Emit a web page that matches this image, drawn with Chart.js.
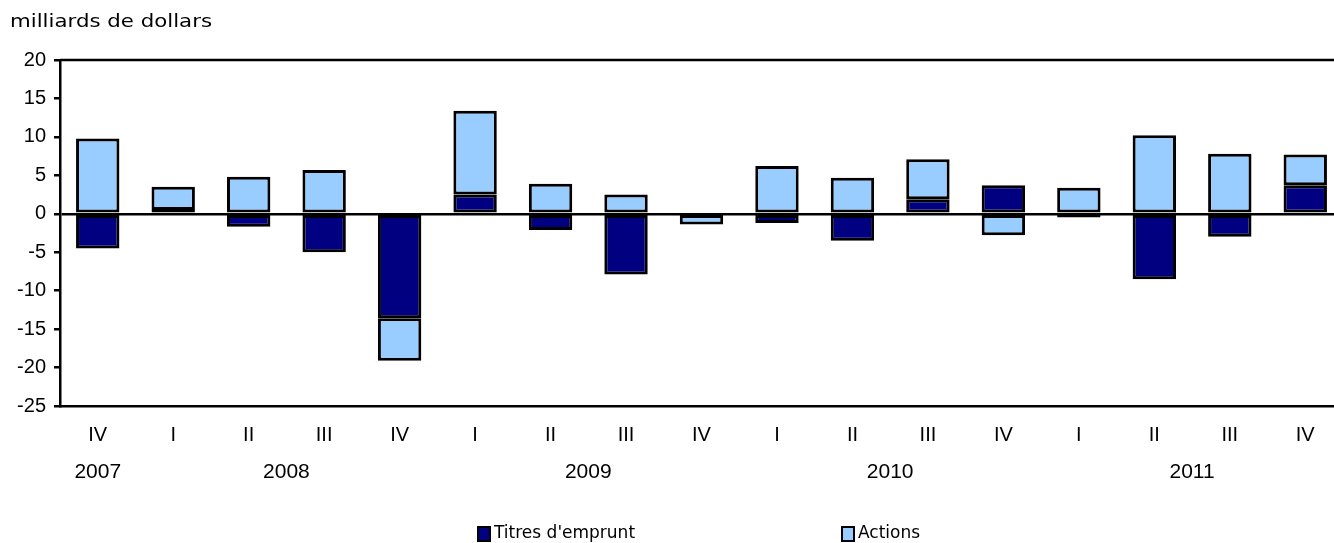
<!DOCTYPE html>
<html>
<head>
<meta charset="utf-8">
<script src="https://cdn.jsdelivr.net/npm/chart.js@4"></script>
<style>
  html, body { margin: 0; padding: 0; background: #fff; overflow: hidden; }
  /* the plot runs a little past the right edge of the window, as in the original */
  #wrap { width: 1343px; height: 543px; position: relative; }
</style>
</head>
<body>
<div id="wrap"><canvas id="chart"></canvas></div>
<script>
// quarters along the x axis, a new year starts at each "I"
var quarters = ["IV", "I", "II", "III", "IV", "I", "II", "III", "IV", "I", "II", "III", "IV", "I", "II", "III", "IV"];
var years = ["2007", "2008", "2009", "2010", "2011"];
// milliards de dollars
var titres = [-4.5, 0.5, -1.7, -5.0, -13.6, 2.5, -2.1, -7.9, 0, -1.2, -3.5, 1.9, 3.7, -0.5, -8.5, -3.0, 3.7];
var actions = [9.8, 3.0, 4.8, 5.7, -5.5, 10.9, 3.9, 2.5, -1.4, 6.2, 4.7, 5.2, -2.8, 3.4, 10.2, 7.8, 4.0];
var seriesNames = ["Titres d'emprunt", "Actions"];
var seriesColors = ["#000080", "#99CCFF"];

var tickFont = "'Liberation Sans', Arial, sans-serif";
var textFont = "'DejaVu Sans', Verdana, sans-serif";

// group quarter indexes by year
function yearGroups() {
  var groups = [];
  var y = -1;
  quarters.forEach(function (q, i) {
    if (i == 0 || q == "I") {
      y++;
      groups.push({ label: years[y], first: i, last: i });
    } else {
      groups[y].last = i;
    }
  });
  return groups;
}

// text stretched horizontally to a given width
function wideText(ctx, text, x, y, width) {
  var w = ctx.measureText(text).width;
  ctx.save();
  ctx.translate(x, y);
  ctx.scale(width / w, 1);
  ctx.fillText(text, 0, 0);
  ctx.restore();
}

var extras = {
  id: "extras",
  afterDraw: function (chart) {
    var ctx = chart.ctx;
    var area = chart.chartArea;
    var xs = chart.scales.x;
    ctx.save();
    // top border of the plot
    ctx.strokeStyle = "#000";
    ctx.lineWidth = 2.5;
    ctx.beginPath();
    ctx.moveTo(area.left, area.top);
    ctx.lineTo(area.right, area.top);
    ctx.stroke();

    // title
    ctx.fillStyle = "#000";
    ctx.font = "17px " + textFont;
    ctx.textAlign = "left";
    ctx.textBaseline = "middle";
    wideText(ctx, "milliards de dollars", 10, 23, 202);

    // year labels
    ctx.font = "21px " + tickFont;
    ctx.textAlign = "center";
    yearGroups().forEach(function (g) {
      var x = (xs.getPixelForValue(g.first) + xs.getPixelForValue(g.last)) / 2;
      ctx.fillText(g.label, x, 472);
    });

    // legend
    var legendX = [478, 842];
    ctx.font = "17px " + textFont;
    ctx.textAlign = "left";
    seriesNames.forEach(function (name, i) {
      ctx.fillStyle = seriesColors[i];
      ctx.fillRect(legendX[i], 527, 12, 14);
      ctx.strokeStyle = "#000";
      ctx.lineWidth = 2;
      ctx.strokeRect(legendX[i], 527, 12, 14);
      ctx.fillStyle = "#000";
      ctx.fillText(name, legendX[i] + 16, 534);
    });
    ctx.restore();
  },
};

var chart = new Chart(document.getElementById("chart"), {
  type: "bar",
  data: {
    labels: quarters,
    datasets: [
      {
        label: seriesNames[0],
        data: titres,
        backgroundColor: seriesColors[0],
        borderColor: "#000",
        borderWidth: 3,
        borderSkipped: false,
      },
      {
        label: seriesNames[1],
        data: actions,
        backgroundColor: seriesColors[1],
        borderColor: "#000",
        borderWidth: 3,
        borderSkipped: false,
      },
    ],
  },
  options: {
    responsive: true,
    maintainAspectRatio: false,
    animation: false,
    layout: { padding: { top: 60, right: 0, bottom: 0, left: 0 } },
    datasets: { bar: { categoryPercentage: 1, barPercentage: 0.575 } },
    plugins: {
      legend: { display: false },
      tooltip: { enabled: false },
    },
    scales: {
      x: {
        stacked: true,
        grid: { display: false },
        border: { display: true, color: "#000", width: 2.5 },
        ticks: { color: "#000", font: { family: tickFont, size: 20 }, padding: 9, maxRotation: 0, autoSkip: false },
        afterFit: function (scale) {
          scale.height = 137;
        },
      },
      y: {
        stacked: true,
        min: -25,
        max: 20,
        grid: {
          drawOnChartArea: true,
          color: function (c) {
            return c.tick && c.tick.value == 0 ? "#000" : "rgba(0,0,0,0)";
          },
          tickColor: "#000",
          lineWidth: 2.5,
          tickLength: 6,
        },
        border: { display: true, color: "#000", width: 2.5 },
        ticks: { color: "#000", font: { family: tickFont, size: 20 }, stepSize: 5, padding: 8 },
        afterFit: function (scale) {
          scale.width = 60;
        },
      },
    },
  },
  plugins: [extras],
});
</script>
</body>
</html>
